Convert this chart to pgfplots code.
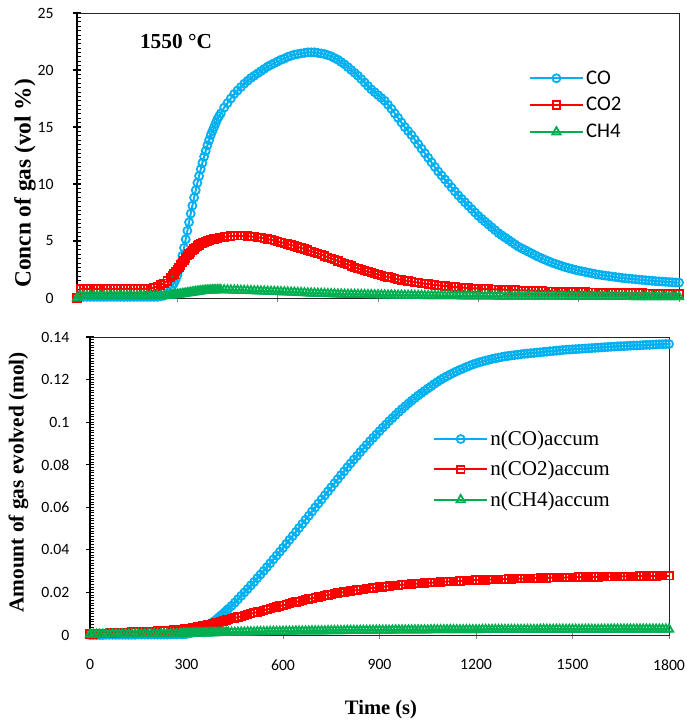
\documentclass[border=0pt]{standalone}
\usepackage{fontspec}
\setmainfont{Liberation Serif}
\newfontfamily\calibri{Carlito}
\usepackage{pgfplots}
\usepackage{pgfplotstable}
\pgfplotsset{compat=1.18}
\definecolor{cob}{RGB}{0,176,240}
\definecolor{cor}{RGB}{255,0,0}
\definecolor{cog}{RGB}{0,176,80}

\pgfplotstableread{
t CO CO2 CH4 nCO nCO2 nCH4
0 0.0 0.0 0.0 0.0000 0.0005 0.0003
10 0.1 0.8 0.2 0.0000 0.0005 0.0003
20 0.1 0.8 0.2 0.0000 0.0006 0.0003
30 0.1 0.8 0.2 0.0000 0.0007 0.0003
40 0.1 0.8 0.2 0.0000 0.0008 0.0003
50 0.1 0.8 0.2 0.0001 0.0008 0.0003
60 0.1 0.8 0.2 0.0001 0.0009 0.0003
70 0.1 0.8 0.2 0.0001 0.0010 0.0004
80 0.1 0.8 0.2 0.0001 0.0010 0.0004
90 0.1 0.8 0.2 0.0001 0.0011 0.0004
100 0.1 0.8 0.2 0.0001 0.0012 0.0004
110 0.1 0.8 0.2 0.0001 0.0012 0.0004
120 0.1 0.8 0.2 0.0001 0.0013 0.0004
130 0.1 0.8 0.2 0.0001 0.0014 0.0004
140 0.1 0.8 0.2 0.0001 0.0014 0.0004
150 0.1 0.8 0.2 0.0002 0.0015 0.0005
160 0.1 0.8 0.2 0.0002 0.0016 0.0005
170 0.1 0.8 0.2 0.0002 0.0016 0.0005
180 0.1 0.8 0.2 0.0002 0.0017 0.0005
190 0.1 0.8 0.2 0.0002 0.0018 0.0005
200 0.1 0.8 0.2 0.0002 0.0018 0.0005
210 0.1 0.82 0.2 0.0002 0.0019 0.0005
220 0.1 0.85 0.2 0.0002 0.0020 0.0005
230 0.1 0.92 0.2 0.0002 0.0020 0.0006
240 0.1 1.0 0.2 0.0002 0.0021 0.0006
250 0.15 1.15 0.2 0.0003 0.0022 0.0006
260 0.2 1.3 0.2 0.0003 0.0023 0.0006
270 0.4 1.5 0.22 0.0003 0.0024 0.0006
280 0.8 1.8 0.24 0.0004 0.0025 0.0006
285 1.05 1.95 0.25 0.0004 0.0026 0.0006
290 1.3 2.1 0.27 0.0005 0.0027 0.0007
295 1.6 2.3 0.28 0.0005 0.0028 0.0007
300 2.0 2.5 0.30 0.0006 0.0029 0.0007
305 2.5 2.7 0.32 0.0007 0.0030 0.0007
310 3.1 2.9 0.34 0.0008 0.0031 0.0007
315 3.7 3.1 0.36 0.0010 0.0032 0.0007
320 4.4 3.3 0.38 0.0012 0.0033 0.0008
325 5.15 3.5 0.40 0.0014 0.0034 0.0008
330 5.9 3.7 0.43 0.0016 0.0036 0.0008
335 6.65 3.85 0.45 0.0019 0.0037 0.0008
340 7.4 4.0 0.48 0.0022 0.0039 0.0008
345 8.1 4.15 0.50 0.0025 0.0040 0.0008
350 8.8 4.3 0.53 0.0029 0.0042 0.0009
355 9.45 4.43 0.55 0.0033 0.0043 0.0009
360 10.1 4.55 0.57 0.0038 0.0045 0.0009
365 10.7 4.65 0.59 0.0042 0.0047 0.0009
370 11.3 4.75 0.61 0.0047 0.0049 0.0009
375 11.85 4.83 0.62 0.0052 0.0050 0.0010
380 12.4 4.9 0.64 0.0058 0.0052 0.0010
385 12.9 4.95 0.65 0.0063 0.0054 0.0010
390 13.4 5.0 0.67 0.0069 0.0056 0.0010
395 13.85 5.05 0.68 0.0075 0.0058 0.0010
400 14.3 5.1 0.69 0.0082 0.0060 0.0011
405 14.65 5.14 0.69 0.0088 0.0062 0.0011
410 15.0 5.18 0.70 0.0095 0.0064 0.0011
415 15.35 5.21 0.70 0.0101 0.0066 0.0011
420 15.7 5.25 0.71 0.0108 0.0068 0.0011
425 15.95 5.28 0.71 0.0115 0.0070 0.0011
430 16.2 5.3 0.71 0.0123 0.0072 0.0012
440 16.7 5.35 0.71 0.0137 0.0076 0.0012
450 17.1 5.4 0.70 0.0152 0.0080 0.0012
460 17.5 5.43 0.69 0.0168 0.0084 0.0013
470 17.9 5.45 0.68 0.0184 0.0088 0.0013
480 18.2 5.46 0.67 0.0200 0.0092 0.0013
490 18.5 5.46 0.66 0.0216 0.0096 0.0014
500 18.8 5.45 0.65 0.0233 0.0100 0.0014
510 19.05 5.43 0.64 0.0249 0.0104 0.0014
520 19.3 5.4 0.63 0.0267 0.0108 0.0015
530 19.5 5.37 0.62 0.0284 0.0112 0.0015
540 19.7 5.33 0.61 0.0301 0.0116 0.0015
550 19.9 5.28 0.60 0.0319 0.0120 0.0015
560 20.1 5.23 0.59 0.0337 0.0124 0.0016
570 20.3 5.17 0.58 0.0355 0.0128 0.0016
580 20.45 5.1 0.57 0.0373 0.0132 0.0016
590 20.6 5.03 0.56 0.0391 0.0136 0.0016
600 20.75 4.96 0.55 0.0409 0.0140 0.0017
610 20.9 4.89 0.54 0.0428 0.0144 0.0017
620 21.0 4.81 0.53 0.0447 0.0148 0.0017
630 21.15 4.73 0.51 0.0465 0.0152 0.0017
640 21.25 4.65 0.50 0.0484 0.0155 0.0018
650 21.35 4.57 0.49 0.0503 0.0159 0.0018
660 21.4 4.48 0.47 0.0522 0.0162 0.0018
670 21.45 4.39 0.46 0.0541 0.0166 0.0018
680 21.5 4.3 0.45 0.0560 0.0169 0.0018
690 21.55 4.2 0.43 0.0580 0.0173 0.0019
700 21.55 4.1 0.42 0.0599 0.0176 0.0019
710 21.55 4.0 0.41 0.0618 0.0179 0.0019
720 21.5 3.9 0.40 0.0637 0.0182 0.0019
730 21.45 3.8 0.39 0.0656 0.0185 0.0019
740 21.4 3.69 0.38 0.0675 0.0188 0.0020
750 21.3 3.58 0.37 0.0694 0.0191 0.0020
760 21.2 3.47 0.36 0.0713 0.0194 0.0020
770 21.05 3.36 0.35 0.0732 0.0197 0.0020
780 20.9 3.25 0.34 0.0751 0.0199 0.0020
790 20.7 3.14 0.33 0.0769 0.0202 0.0020
800 20.5 3.03 0.32 0.0788 0.0204 0.0021
810 20.25 2.92 0.31 0.0806 0.0207 0.0021
820 20.0 2.81 0.31 0.0824 0.0209 0.0021
830 19.75 2.7 0.30 0.0841 0.0211 0.0021
840 19.5 2.6 0.30 0.0859 0.0213 0.0021
850 19.2 2.5 0.29 0.0876 0.0215 0.0021
860 18.9 2.4 0.29 0.0893 0.0217 0.0021
870 18.6 2.31 0.28 0.0910 0.0219 0.0022
880 18.3 2.22 0.28 0.0926 0.0221 0.0022
890 18.05 2.14 0.27 0.0942 0.0223 0.0022
900 17.8 2.06 0.27 0.0958 0.0225 0.0022
910 17.55 1.98 0.26 0.0974 0.0226 0.0022
920 17.3 1.91 0.26 0.0989 0.0228 0.0022
930 16.95 1.84 0.25 0.1005 0.0230 0.0022
940 16.6 1.77 0.25 0.1019 0.0231 0.0022
950 16.2 1.71 0.24 0.1034 0.0233 0.0023
960 15.8 1.65 0.24 0.1048 0.0234 0.0023
970 15.4 1.59 0.23 0.1062 0.0236 0.0023
980 15.0 1.54 0.23 0.1075 0.0237 0.0023
990 14.65 1.49 0.22 0.1088 0.0238 0.0023
1000 14.3 1.44 0.22 0.1101 0.0240 0.0023
1010 13.9 1.39 0.22 0.1113 0.0241 0.0023
1020 13.5 1.35 0.21 0.1125 0.0242 0.0023
1030 13.1 1.30 0.21 0.1136 0.0243 0.0023
1040 12.7 1.26 0.20 0.1147 0.0244 0.0023
1050 12.3 1.22 0.20 0.1158 0.0245 0.0023
1060 11.9 1.18 0.20 0.1168 0.0246 0.0024
1070 11.5 1.14 0.20 0.1179 0.0247 0.0024
1080 11.1 1.11 0.19 0.1189 0.0248 0.0024
1090 10.75 1.08 0.19 0.1199 0.0249 0.0024
1100 10.4 1.05 0.19 0.1208 0.0250 0.0024
1110 10.05 1.02 0.18 0.1216 0.0251 0.0024
1120 9.7 0.99 0.18 0.1224 0.0252 0.0024
1130 9.35 0.96 0.18 0.1232 0.0252 0.0024
1140 9.0 0.94 0.18 0.1239 0.0253 0.0024
1150 8.7 0.92 0.17 0.1246 0.0254 0.0024
1160 8.4 0.90 0.17 0.1252 0.0255 0.0024
1170 8.1 0.88 0.17 0.1259 0.0255 0.0024
1180 7.8 0.86 0.17 0.1265 0.0256 0.0024
1190 7.5 0.84 0.16 0.1271 0.0257 0.0024
1200 7.2 0.83 0.16 0.1276 0.0258 0.0024
1210 6.95 0.81 0.16 0.1281 0.0258 0.0024
1220 6.7 0.80 0.16 0.1285 0.0259 0.0025
1230 6.45 0.78 0.16 0.1289 0.0259 0.0025
1240 6.2 0.77 0.16 0.1293 0.0260 0.0025
1250 5.95 0.76 0.16 0.1297 0.0260 0.0025
1260 5.7 0.75 0.15 0.1300 0.0261 0.0025
1270 5.5 0.73 0.15 0.1303 0.0261 0.0025
1280 5.3 0.72 0.15 0.1306 0.0262 0.0025
1290 5.1 0.71 0.15 0.1309 0.0262 0.0025
1300 4.9 0.70 0.15 0.1311 0.0263 0.0025
1310 4.7 0.69 0.15 0.1313 0.0263 0.0025
1320 4.5 0.68 0.15 0.1315 0.0264 0.0025
1330 4.35 0.67 0.15 0.1317 0.0264 0.0025
1340 4.2 0.66 0.15 0.1319 0.0265 0.0025
1350 4.05 0.65 0.15 0.1321 0.0265 0.0025
1360 3.9 0.64 0.14 0.1322 0.0266 0.0025
1370 3.75 0.63 0.14 0.1324 0.0266 0.0025
1380 3.6 0.62 0.14 0.1325 0.0267 0.0025
1390 3.47 0.61 0.14 0.1327 0.0267 0.0025
1400 3.35 0.60 0.14 0.1328 0.0268 0.0026
1410 3.22 0.60 0.14 0.1330 0.0268 0.0026
1420 3.1 0.59 0.14 0.1331 0.0268 0.0026
1430 3.0 0.58 0.14 0.1333 0.0269 0.0026
1440 2.9 0.57 0.14 0.1334 0.0269 0.0026
1450 2.8 0.57 0.14 0.1336 0.0269 0.0026
1460 2.7 0.56 0.13 0.1337 0.0270 0.0026
1470 2.62 0.55 0.13 0.1339 0.0270 0.0026
1480 2.55 0.54 0.13 0.1340 0.0270 0.0026
1490 2.47 0.54 0.13 0.1341 0.0271 0.0026
1500 2.4 0.53 0.13 0.1342 0.0271 0.0026
1510 2.34 0.53 0.13 0.1343 0.0271 0.0026
1520 2.28 0.52 0.13 0.1344 0.0272 0.0026
1530 2.22 0.51 0.13 0.1345 0.0272 0.0026
1540 2.16 0.50 0.13 0.1346 0.0272 0.0026
1550 2.1 0.50 0.13 0.1347 0.0273 0.0026
1560 2.05 0.49 0.12 0.1348 0.0273 0.0026
1570 2.0 0.49 0.12 0.1349 0.0273 0.0026
1580 1.96 0.48 0.12 0.1350 0.0273 0.0026
1590 1.92 0.48 0.12 0.1351 0.0274 0.0026
1600 1.88 0.47 0.12 0.1352 0.0274 0.0026
1610 1.84 0.47 0.12 0.1353 0.0274 0.0026
1620 1.8 0.46 0.12 0.1354 0.0274 0.0027
1630 1.76 0.46 0.12 0.1355 0.0275 0.0027
1640 1.73 0.45 0.12 0.1356 0.0275 0.0027
1650 1.7 0.45 0.12 0.1357 0.0275 0.0027
1660 1.67 0.44 0.11 0.1357 0.0275 0.0027
1670 1.64 0.44 0.11 0.1358 0.0276 0.0027
1680 1.61 0.43 0.11 0.1359 0.0276 0.0027
1690 1.58 0.43 0.11 0.1360 0.0276 0.0027
1700 1.56 0.42 0.11 0.1360 0.0276 0.0027
1710 1.53 0.41 0.11 0.1361 0.0277 0.0027
1720 1.51 0.40 0.11 0.1362 0.0277 0.0027
1730 1.48 0.40 0.11 0.1363 0.0277 0.0027
1740 1.46 0.39 0.11 0.1363 0.0277 0.0027
1750 1.44 0.39 0.11 0.1364 0.0277 0.0027
1760 1.42 0.38 0.10 0.1365 0.0277 0.0027
1770 1.40 0.38 0.10 0.1366 0.0278 0.0027
1780 1.38 0.37 0.10 0.1366 0.0278 0.0027
1790 1.36 0.37 0.10 0.1367 0.0278 0.0027
1800 1.35 0.36 0.10 0.1367 0.0278 0.0027
}\data

\pgfplotsset{
  common/.style={
    scale only axis,
    clip=false,
    xmin=0, xmax=1800,
    axis line style={black!85, line width=0.6pt},
    tick align=inside,
    xtick pos=left, ytick pos=left,
    xtick={0,300,...,1800},
    major tick length=6pt,
    minor tick length=3pt,
    every major y tick/.append style={xshift=-3pt, black, line width=0.8pt},
    every minor y tick/.append style={black, line width=0.6pt},
    every major x tick/.append style={yshift=-3pt, gray, line width=0.6pt},
    ticklabel style={font=\calibri\fontsize{11.8}{13}\selectfont},
    /pgf/number format/.cd, fixed, 1000 sep={}, assume math mode=true,
    /pgfplots/.cd,
    scaled y ticks=false,
    legend cell align=left,
    legend image code/.code={\draw[mark repeat=2,mark phase=2,#1] plot coordinates {(0pt,0pt) (20pt,0pt) (40pt,0pt)};},
  },
  sCO/.style={cob, line width=1.5pt, mark=o, mark size=3.0pt, mark options={line width=1.35pt, solid, fill=none}},
  sCO2/.style={cor, line width=1.5pt, mark=square, mark size=2.8pt, mark options={line width=1.35pt, solid, fill=none}},
  sCH4/.style={cog, line width=1.5pt, mark=triangle, mark size=3.6pt, mark options={line width=1.35pt, solid, fill=none}},
}

\begin{document}
\begin{tikzpicture}
\useasboundingbox (0,0) rectangle (514.5pt,540.75pt);

% top panel
\begin{axis}[common,
  at={(57.75pt,317.25pt)}, anchor=south west,
  width=451.5pt, height=213.75pt,
  ymin=0, ymax=25, ytick={0,5,10,15,20,25},
  minor y tick num=12,
  xticklabels={},
  yticklabel style={xshift=-14pt},
  ylabel={\fontsize{17.5}{20}\selectfont\bfseries Concn of gas (vol \%)},
  ylabel style={at={(axis description cs:-0.0865,0.402)}, anchor=center},
  legend style={at={(axis description cs:0.750,0.806)}, anchor=north west,
    draw=none, fill=none, inner sep=0pt, row sep=5.5pt,
    nodes={inner sep=1.5pt},
    font=\calibri\fontsize{15.6}{18}\selectfont},
]
\draw[black, line width=1.6pt] (rel axis cs:0,0) -- (rel axis cs:0,1);
\addplot[sCO] table[x=t, y=CO] {\data};
\addplot[sCO2] table[x=t, y=CO2] {\data};
\addplot[sCH4] table[x=t, y=CH4] {\data};
\legend{CO, CO2, CH4}
\node[font=\fontsize{16}{18}\selectfont\bfseries] at (axis cs:296,22.5) {1550 °C};
\end{axis}

% bottom panel
\begin{axis}[common,
  at={(67.5pt,64.5pt)}, anchor=south west,
  width=434.25pt, height=223.5pt,
  ymin=0, ymax=0.14, ytick={0,0.02,0.04,0.06,0.08,0.1,0.12,0.14},
  minor y tick num=15,
  yticklabel style={xshift=-12pt},
  xticklabel style={yshift=-15pt},
  ylabel={\fontsize{16}{19}\selectfont\bfseries Amount of gas evolved (mol)},
  ylabel style={at={(axis description cs:-0.1235,0.512)}, anchor=center},
  xlabel={\fontsize{15.4}{18}\selectfont\bfseries Time (s)},
  xlabel style={at={(axis description cs:0.5026,-0.2517)}, anchor=center},
  legend style={at={(axis description cs:0.592,0.693)}, anchor=north west,
    draw=none, fill=none, inner sep=0pt, row sep=7.3pt,
    nodes={inner sep=1.5pt},
    font=\fontsize{15.8}{18}\selectfont},
]
\draw[black, line width=1.6pt] (rel axis cs:0,0) -- (rel axis cs:0,1);
\addplot[sCO] table[x=t, y=nCO] {\data};
\addplot[sCO2] table[x=t, y=nCO2] {\data};
\addplot[sCH4] table[x=t, y=nCH4] {\data};
\legend{n(CO)accum, n(CO2)accum, n(CH4)accum}
\end{axis}
\end{tikzpicture}
\end{document}
